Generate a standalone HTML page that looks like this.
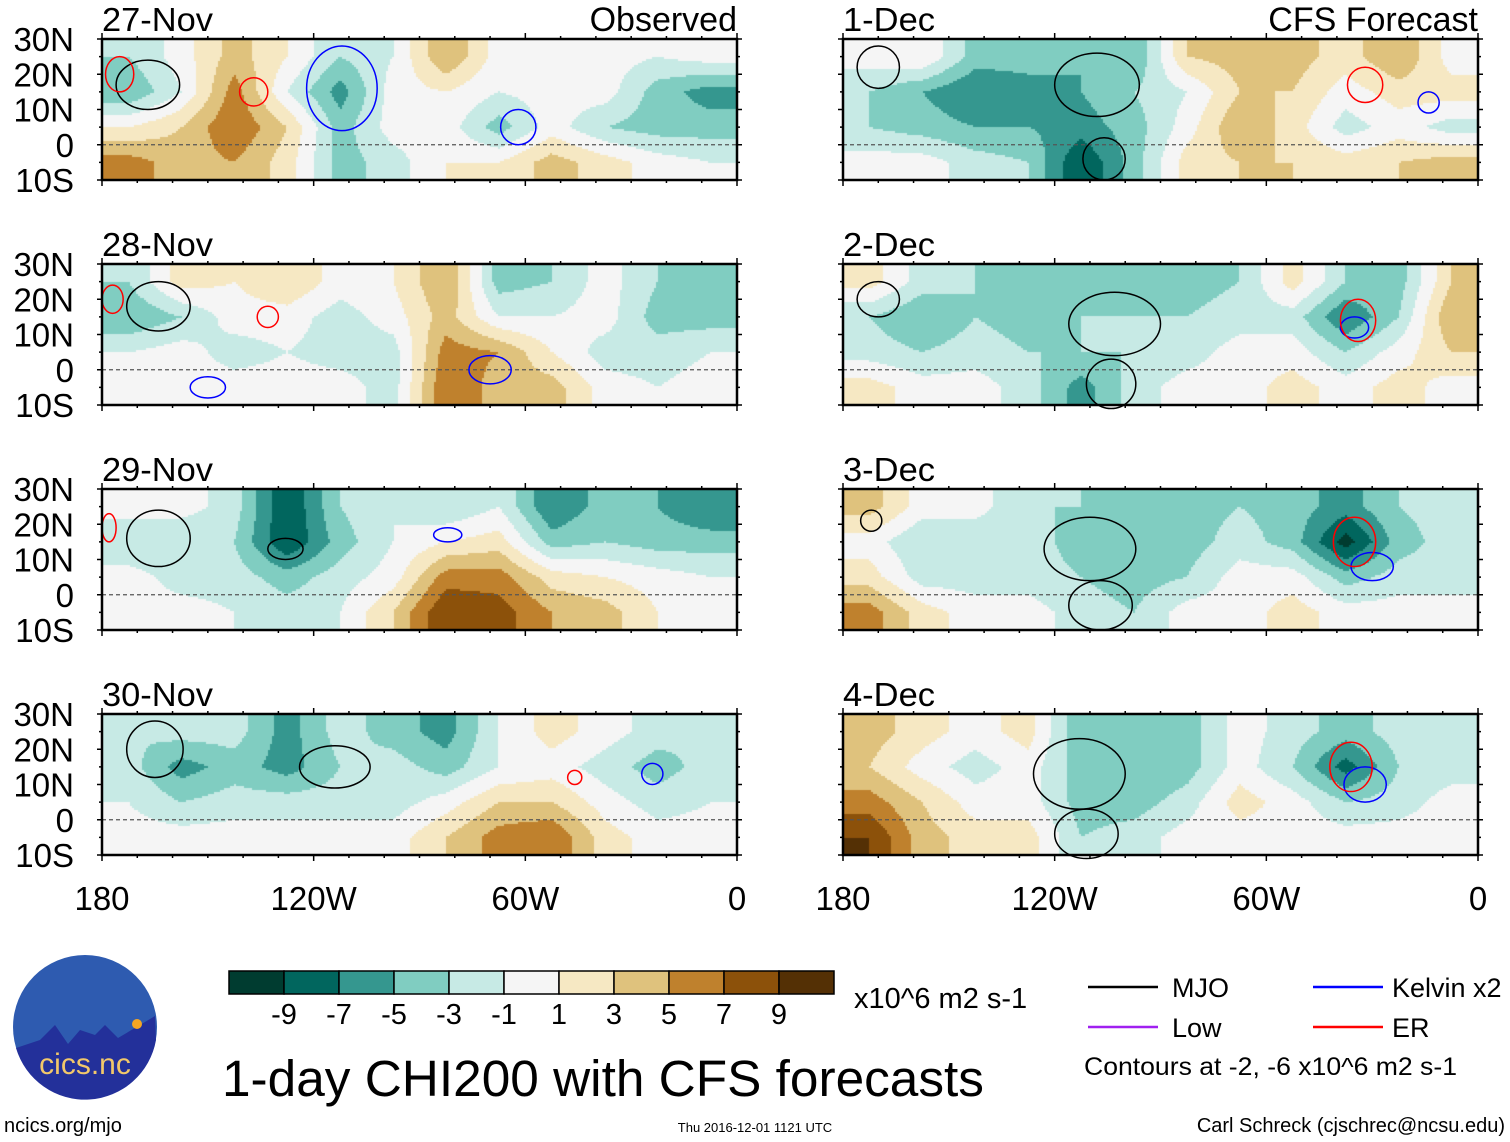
<!DOCTYPE html>
<html><head><meta charset="utf-8">
<style>
html,body{margin:0;padding:0;background:#fff;}
#root{position:relative;width:1510px;height:1142px;overflow:hidden;font-family:"Liberation Sans",Arial,sans-serif;}
canvas{position:absolute;}
svg{position:absolute;left:0;top:0;}
</style></head>
<body>
<div id="root">
<svg id="ov" width="1510" height="1142"></svg>
</div>
<script>
// ---- data ----
const panelLabels = ["27-Nov","28-Nov","29-Nov","30-Nov","1-Dec","2-Dec","3-Dec","4-Dec"];
const colorLevels = [-9,-7,-5,-3,-1,1,3,5,7,9];
const colorbarLabels = ["-9","-7","-5","-3","-1","1","3","5","7","9"];
const latTicks = ["30N","20N","10N","0","10S"];
const lonTickLabels = ["180","120W","60W","0"];
const lonTicks = [180,120,60,0];
// each entry: a 15-degree longitude column (180 -> 0) listing [25N,15N,5N,5S]
const chi27Nov = [[-3,-5,1,6],[0,-1,3,4],[4,6,7,5],[1,-1,3,2],[-3,-6,-4,-4],[-1,0,0,-2],[5,1,0,1],[0,-1,-4,1],[0,0,0,4],[0,0,-3,2],[-1,-4,-4,0],[0,-6,-4,-1]];
const chi28Nov = [[-3,-5,-1,0],[2,-3,0,0],[1,0,-2,0],[3,0,-1,0],[0,-2,-2,0],[1,0,-2,-2],[5,4,6,7],[-4,-1,5,4],[-3,-1,1,4],[0,0,-2,0],[-3,-4,-2,-1],[-4,-4,-1,0]];
const chi29Nov = [[0,-3,0,0],[0,-3,-2,0],[-2,-3,-2,-1],[-9,-9,-4,-2],[-3,-4,-2,-1],[-1,-1,0,3],[-3,1,6,9],[-1,2,6,8],[-7,-4,2,5],[-4,-3,1,4],[-5,-4,0,1],[-7,-4,-1,0]];
const chi30Nov = [[-3,-2,-1,0],[-2,-6,-3,0],[-2,-4,-2,0],[-6,-6,-2,0],[-2,-3,-2,0],[-4,-2,-2,0],[-6,-4,0,3],[-1,-1,3,6],[2,0,3,7],[0,-2,0,2],[-2,-4,-2,0],[-3,-2,-1,0]];
const chi1Dec = [[0,-3,-3,0],[1,-5,-4,0],[-4,-7,-5,-2],[-4,-6,-5,-3],[-5,-5,-6,-9],[-5,-3,-4,-4],[3,-1,0,2],[4,3,5,3],[4,3,2,3],[2,0,-2,2],[5,2,0,3],[0,2,-2,4]];
const chi2Dec = [[2,-3,-2,2],[-2,-5,-3,0],[-3,-3,-2,0],[-4,-4,-3,-2],[-4,-3,-3,-6],[-4,-3,-3,-2],[-4,-3,-2,0],[-3,-2,0,0],[2,-2,0,2],[-3,-7,-3,0],[-4,-3,0,2],[3,5,3,0]];
const chi3Dec = [[4,0,2,6],[0,-3,-2,2],[0,-3,-2,0],[-3,-2,-2,0],[-3,-4,-3,-2],[-4,-4,-4,-3],[-4,-4,-3,0],[-3,-2,0,0],[-4,-4,0,2],[-6,-10,-4,0],[-3,-4,-2,0],[-2,-2,-2,0]];
const chi4Dec = [[4,3,6,9],[2,0,3,4],[0,-2,0,2],[2,0,0,2],[-5,-4,-4,-3],[-5,-5,-4,-2],[-4,-4,-2,0],[0,0,2,0],[-2,-3,0,0],[-4,-8,-3,0],[-2,-3,-2,0],[-2,-2,0,0]];
const panelData = [chi27Nov,chi28Nov,chi29Nov,chi30Nov,chi1Dec,chi2Dec,chi3Dec,chi4Dec];
// MJO contours: [lonW, lat, halfWidthDeg, halfHeightDeg]
const mjoEllipses = [[[167,17,9,7]],[[164,18,9,7]],[[164,16,9,8],[128,13,5,3]],[[165,20,8,8],[114,15,10,6]],[[170,22,6,6],[108,17,12,9],[106,-4,6,6]],[[170,20,6,5],[103,13,13,9],[104,-4,7,7]],[[172,21,3,3],[110,13,13,9],[107,-3,9,7]],[[113,13,13,10],[111,-4,9,7]]];
const erEllipses = [[[175,20,4,5],[137,15,4,4]],[[177,20,3,4],[133,15,3,3]],[[178,19,2,4]],[[46,12,2,2]],[[32,17,5,5]],[[34,14,5,6]],[[35,15,6,7]],[[36,15,6,7]]];
const kelvinEllipses = [[[112,16,10,12],[62,5,5,5]],[[150,-5,5,3],[70,0,6,4]],[[82,17,4,2]],[[24,13,3,3]],[[14,12,3,3]],[[35,12,4,3]],[[30,8,6,4]],[[32,10,6,5]]];
// ---- helpers ----
const colors=["#003c30","#01665e","#35978f","#80cdc1","#c7eae5","#f5f5f5","#f6e8c3","#dfc27d","#bf812d","#8c510a","#543005"];
function colorFor(v){let i=0;while(i<colorLevels.length&&v>=colorLevels[i])i++;return colors[i];}
const PW=635, PH=141;
const colX=[102,843], rowY=[39,264,489,714];
function xScale(lonW,x0){return x0+(180-lonW)/180*PW;}
function yScale(lat,y0){return y0+(30-lat)/40*PH;}
const ns="http://www.w3.org/2000/svg";
const ov=document.getElementById('ov');
function el(tag,attrs,parent){const e=document.createElementNS(ns,tag);for(const k in attrs)e.setAttribute(k,attrs[k]);(parent||ov).appendChild(e);return e;}
function txt(s,attrs){const t=el('text',attrs);t.textContent=s;return t;}
function sample(data,lonW,lat){
  let fi=(172.5-lonW)/15, fj=(25-lat)/10;
  fi=Math.max(0,Math.min(11,fi)); fj=Math.max(0,Math.min(3,fj));
  const i0=Math.floor(fi),j0=Math.floor(fj),i1=Math.min(11,i0+1),j1=Math.min(3,j0+1);
  const A=fi-i0,B=fj-j0;
  const v00=data[i0][j0],v10=data[i1][j0],v01=data[i0][j1],v11=data[i1][j1];
  return (v00*(1-A)+v10*A)*(1-B)+(v01*(1-A)+v11*A)*B;
}
const root=document.getElementById('root');
for(let p=0;p<8;p++){
  const x0=colX[p<4?0:1], y0=rowY[p%4], data=panelData[p];
  const cv=document.createElement('canvas');
  cv.width=PW;cv.height=PH;cv.style.left=x0+'px';cv.style.top=y0+'px';
  
  
  root.insertBefore(cv,ov);
  const ctx=cv.getContext('2d');
  const step=2;
  for(let px=0;px<PW;px+=step){for(let py=0;py<PH;py+=step){
    const lonW=180-(px+step/2)/PW*180, lat=30-(py+step/2)/PH*40;
    ctx.fillStyle=colorFor(sample(data,lonW,lat));ctx.fillRect(px,py,step,step);
  }}
  const g=el('g',{});
  
  
  el('line',{x1:x0,x2:x0+PW,y1:yScale(0,y0),y2:yScale(0,y0),stroke:'#555','stroke-width':1.2,'stroke-dasharray':'4,3'},g);
  kelvinEllipses[p].forEach(e=>{const c=el('ellipse',{cx:xScale(e[0],x0),cy:yScale(e[1],y0),rx:e[2]/180*PW,ry:e[3]/40*PH,fill:'none',stroke:'#00f','stroke-width':1.5},g);
    });
  mjoEllipses[p].forEach(e=>{const c=el('ellipse',{cx:xScale(e[0],x0),cy:yScale(e[1],y0),rx:e[2]/180*PW,ry:e[3]/40*PH,fill:'none',stroke:'#000','stroke-width':1.5},g);
    });
  erEllipses[p].forEach(e=>{const c=el('ellipse',{cx:xScale(e[0],x0),cy:yScale(e[1],y0),rx:e[2]/180*PW,ry:e[3]/40*PH,fill:'none',stroke:'#f00','stroke-width':1.5},g);
    });
  el('rect',{x:x0,y:y0,width:PW,height:PH,fill:'none',stroke:'#000','stroke-width':2.5},g);
  for(let l=180;l>=0;l-=10){const x=xScale(l,x0);const big=(l%60===0);
    el('line',{x1:x,x2:x,y1:y0,y2:y0-(big?6:3),stroke:'#000','stroke-width':1.5},g);
    el('line',{x1:x,x2:x,y1:y0+PH,y2:y0+PH+(big?6:3),stroke:'#000','stroke-width':1.5},g);}
  for(let la=30;la>=-10;la-=5){const y=yScale(la,y0);
    el('line',{x1:x0,x2:x0-(la%10===0?5:3),y1:y,y2:y,stroke:'#000','stroke-width':1.5},g);
    el('line',{x1:x0+PW,x2:x0+PW+(la%10===0?5:3),y1:y,y2:y,stroke:'#000','stroke-width':1.5},g);}
  const t=txt(panelLabels[p],{x:x0,y:y0-8,'font-size':33,fill:'#000',textLength:(panelLabels[p].length>5?111:92),lengthAdjust:'spacingAndGlyphs'});
  
  if(p<4){for(let k=0;k<latTicks.length;k++){
    const lt=txt(latTicks[k],{x:x0-28,y:yScale(30-10*k,y0)+12,'font-size':33,'text-anchor':'end',fill:'#000'});
    
  }}
}
let t;
t=txt('Observed',{x:737,y:31,'font-size':34,'text-anchor':'end'});
t=txt('CFS Forecast',{x:1478,y:31,'font-size':34,'text-anchor':'end'});
colX.forEach(x0=>lonTicks.forEach((l,i)=>{const a=txt(lonTickLabels[i],{x:xScale(l,x0),y:910,'font-size':33,'text-anchor':'middle'});
  }));
const cb=el('g',{});
for(let i=0;i<11;i++){el('rect',{x:229+i*55,y:971,width:55,height:23,fill:colors[i],stroke:'#000','stroke-width':1.5},cb);}
colorbarLabels.forEach((s,i)=>{const a=txt(s,{x:284+i*55,y:1024,'font-size':29,'text-anchor':'middle'});});
t=txt('x10^6 m2 s-1',{x:854,y:1008,'font-size':29});
t=txt('1-day CHI200 with CFS forecasts',{x:222,y:1096,'font-size':51,textLength:762,lengthAdjust:'spacingAndGlyphs'});
const lg=[['MJO','#000',1088,1172,987],['Kelvin x2','#00f',1313,1392,987],['Low','#a020f0',1088,1172,1027],['ER','#f00',1313,1392,1027]];
lg.forEach(d=>{const g=el('g',{});
  el('line',{x1:d[2],x2:d[2]+70,y1:d[4],y2:d[4],stroke:d[1],'stroke-width':2.5},g);
  const a=el('text',{x:d[3],y:d[4]+10,'font-size':27},g);a.textContent=d[0];});
t=txt('Contours at -2, -6 x10^6 m2 s-1',{x:1084,y:1075,'font-size':25,textLength:373,lengthAdjust:'spacingAndGlyphs'});
t=txt('Carl Schreck (cjschrec@ncsu.edu)',{x:1505,y:1132,'font-size':20,'text-anchor':'end'});
t=txt('Thu 2016-12-01 1121 UTC',{x:755,y:1132,'font-size':13,'text-anchor':'middle'});
t=txt('ncics.org/mjo',{x:4,y:1132,'font-size':20});
const lo=el('g',{});
el('circle',{cx:85,cy:1027,r:72,fill:'#2e5bb0'},lo);
el('path',{d:'M16,1048 L40,1040 L55,1025 L68,1044 L80,1030 L95,1035 L105,1025 L118,1038 L140,1025 L155,1016 L156,1040 A72,72 0 0 1 16,1048 Z',fill:'#23309a'},lo);
el('circle',{cx:137,cy:1024,r:5,fill:'#f5a623'},lo);
const lt2=el('text',{x:85,y:1074,'font-size':30,'text-anchor':'middle',fill:'#f2c86a'},lo);lt2.textContent='cics.nc';
</script>
</body></html>
